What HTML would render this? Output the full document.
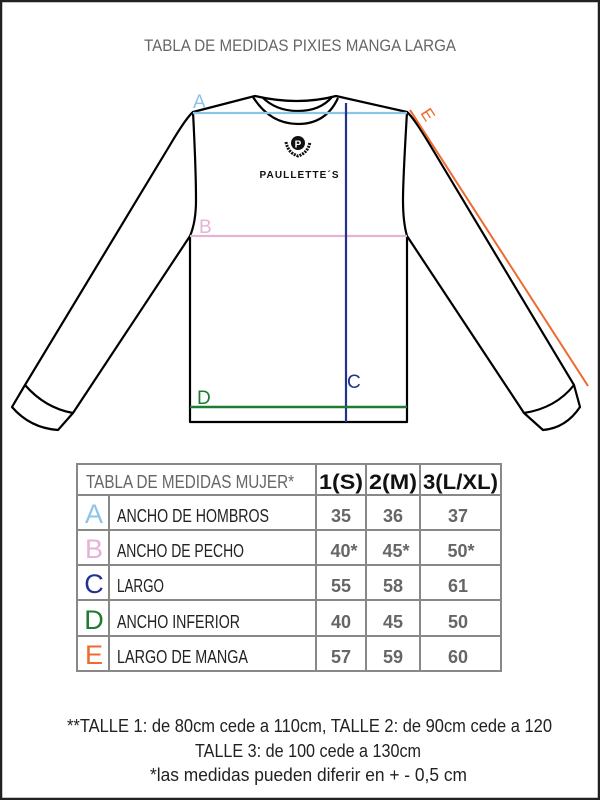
<!DOCTYPE html>
<html><head><meta charset="utf-8"><style>
html,body{margin:0;padding:0;background:#fff}
svg{display:block}
text{font-family:"Liberation Sans",sans-serif}
</style></head><body>
<svg width="600" height="800" viewBox="0 0 600 800" xmlns="http://www.w3.org/2000/svg">
<rect x="1" y="1" width="598" height="798" fill="#fff" stroke="#222" stroke-width="2.5"/>
<text x="300" y="51" text-anchor="middle" font-size="17" fill="#666" textLength="312" lengthAdjust="spacingAndGlyphs">TABLA DE MEDIDAS PIXIES MANGA LARGA</text>

<g fill="none" stroke="#000" stroke-width="2.2" stroke-linejoin="round">
<path d="M193,112 L255,96 Q298,106 336,96 L407,112 Q403,180 403,200 Q403,222 407,236 L407,422 L190,422 L190,236 Q196,222 196,200 Q196,170 193,112 Z"/>
<path d="M253,97 Q270,124 298,124 Q326,124 338,98"/>
<path d="M262,97 Q276,111 298,111 Q320,111 332,97"/>
<path d="M193,112 Q186,118 170,145 L25,385 L12,407 Q30,428 58,430 L73,413 L190,236"/>
<path d="M25,385 Q45,408 73,413"/>
<path d="M407,112 Q414,118 430,145 L574,385 L580,407 Q566,428 543,430 L524,413 L407,236"/>
<path d="M574,385 Q556,408 524,413"/>
</g>
<circle cx="298" cy="143" r="7" fill="#111"/>
<text x="298" y="147.5" text-anchor="middle" font-size="10" font-weight="bold" fill="#fff">P</text>
<path d="M286,142 Q288,153 298,156 Q308,153 310,142" fill="none" stroke="#111" stroke-width="3" stroke-dasharray="2 1"/>
<text x="299" y="178" text-anchor="middle" font-size="10" font-weight="bold" fill="#111" textLength="79" lengthAdjust="spacing">PAULLETTE´S</text>

<line x1="193" y1="113" x2="407" y2="113" stroke="#8cc4ea" stroke-width="2.2"/>
<text x="193" y="108" font-size="19" fill="#8cc4ea">A</text>
<line x1="190" y1="236" x2="407" y2="236" stroke="#e6b2d6" stroke-width="2.2"/>
<text x="199" y="233" font-size="19" fill="#e6b2d6">B</text>
<line x1="346" y1="103" x2="346" y2="422" stroke="#23328f" stroke-width="2.2"/>
<text x="347" y="388" font-size="19" fill="#23328f">C</text>
<line x1="190" y1="407" x2="407" y2="407" stroke="#1f7a32" stroke-width="2.4"/>
<text x="197" y="404" font-size="19" fill="#1f7a32">D</text>
<line x1="410" y1="110" x2="588" y2="386" stroke="#ef6a2e" stroke-width="2"/>
<text x="420" y="113" font-size="17" fill="#ef6a2e" transform="rotate(57 420 113)">E</text>

<g stroke="#888" stroke-width="2" fill="none">
<rect x="77" y="464" width="424" height="207"/>
<line x1="77" y1="495" x2="501" y2="495"/>
<line x1="77" y1="530" x2="501" y2="530"/>
<line x1="77" y1="565" x2="501" y2="565"/>
<line x1="77" y1="600" x2="501" y2="600"/>
<line x1="77" y1="636" x2="501" y2="636"/>
<line x1="109" y1="495" x2="109" y2="671"/>
<line x1="316" y1="464" x2="316" y2="671"/>
<line x1="366" y1="464" x2="366" y2="671"/>
<line x1="420" y1="464" x2="420" y2="671"/>
</g>
<text x="86" y="488" font-size="18" fill="#666" textLength="208" lengthAdjust="spacingAndGlyphs">TABLA DE MEDIDAS MUJER*</text>
<g font-size="21" fill="#111" font-weight="bold">
<text x="319" y="489" textLength="44" lengthAdjust="spacingAndGlyphs">1(S)</text>
<text x="369" y="489" textLength="48" lengthAdjust="spacingAndGlyphs">2(M)</text>
<text x="423" y="489" textLength="75" lengthAdjust="spacingAndGlyphs">3(L/XL)</text>
</g>
<g font-size="27" text-anchor="middle">
<text x="94" y="523" fill="#8cc4ea">A</text>
<text x="94" y="558" fill="#e6b2d6">B</text>
<text x="94" y="593" fill="#23328f">C</text>
<text x="94" y="629" fill="#1f7a32">D</text>
<text x="94" y="664" fill="#ef6a2e">E</text>
</g>
<g font-size="18" fill="#222">
<text x="117" y="522" textLength="152" lengthAdjust="spacingAndGlyphs">ANCHO DE HOMBROS</text>
<text x="117" y="557" textLength="127" lengthAdjust="spacingAndGlyphs">ANCHO DE PECHO</text>
<text x="117" y="592" textLength="47" lengthAdjust="spacingAndGlyphs">LARGO</text>
<text x="117" y="628" textLength="123" lengthAdjust="spacingAndGlyphs">ANCHO INFERIOR</text>
<text x="117" y="663" textLength="131" lengthAdjust="spacingAndGlyphs">LARGO DE MANGA</text>
</g>
<g font-size="18" fill="#666" font-weight="bold" text-anchor="middle">
<text x="341" y="522">35</text><text x="393" y="522">36</text><text x="458" y="522">37</text>
<text x="344" y="557">40*</text><text x="396" y="557">45*</text><text x="461" y="557">50*</text>
<text x="341" y="592">55</text><text x="393" y="592">58</text><text x="458" y="592">61</text>
<text x="341" y="628">40</text><text x="393" y="628">45</text><text x="458" y="628">50</text>
<text x="341" y="663">57</text><text x="393" y="663">59</text><text x="458" y="663">60</text>
</g>

<g font-size="18" fill="#222">
<text x="67" y="732" textLength="485" lengthAdjust="spacingAndGlyphs">**TALLE 1: de 80cm cede a 110cm, TALLE 2: de 90cm cede a  120</text>
<text x="195" y="757" textLength="226" lengthAdjust="spacingAndGlyphs">TALLE 3: de 100 cede a 130cm</text>
<text x="150" y="781" textLength="317" lengthAdjust="spacingAndGlyphs">*las medidas pueden diferir en + - 0,5 cm</text>
</g>
</svg>
</body></html>
